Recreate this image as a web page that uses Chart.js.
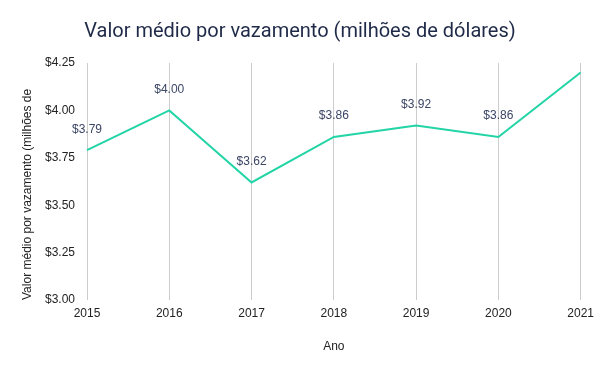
<!DOCTYPE html>
<html lang="pt">
  <head>
    <meta charset="UTF-8" />
    <title>Valor médio por vazamento</title>
    <script src="https://cdn.jsdelivr.net/npm/chart.js@4"></script>
    <style>
      html, body { margin: 0; padding: 0; background: #fff; }
      #wrap { width: 600px; height: 371px; }
    </style>
  </head>
  <body>
    <div id="wrap"><canvas id="myChart" width="600" height="371"></canvas></div>

    <script>
      const years = ["2015", "2016", "2017", "2018", "2019", "2020", "2021"];
      const avgCost = [3.79, 4.0, 3.62, 3.86, 3.92, 3.86, 4.2];
      const yTicks = [3.0, 3.25, 3.5, 3.75, 4.0, 4.25];

      const money = (v) => "$" + v.toFixed(2);

      // value labels above the points (the last one is cut off in the original)
      const pointLabels = {
        id: "pointLabels",
        afterDatasetsDraw(chart) {
          const ctx = chart.ctx;
          const meta = chart.getDatasetMeta(0);
          ctx.save();
          ctx.font = "12px 'Liberation Sans', Arial, sans-serif";
          ctx.fillStyle = "#3b4565";
          ctx.textAlign = "center";
          ctx.textBaseline = "middle";
          meta.data.forEach((pt, i) => {
            if (i === meta.data.length - 1) return;
            ctx.fillText(money(avgCost[i]), pt.x, pt.y - 21);
          });
          ctx.restore();
        },
      };

      const ctx = document.getElementById("myChart").getContext("2d");
      const myChart = new Chart(ctx, {
        type: "line",
        data: {
          labels: years,
          datasets: [
            {
              label: "Valor médio por vazamento",
              data: avgCost,
              borderColor: "#22d4a6",
              borderWidth: 2,
              pointRadius: 0,
              fill: false,
              tension: 0,
            },
          ],
        },
        options: {
          responsive: false,
          animation: false,
          layout: { padding: { left: 19, right: 19, top: 0, bottom: 0 } },
          plugins: {
            legend: { display: false },
            tooltip: { enabled: false },
            title: {
              display: true,
              text: "Valor médio por vazamento (milhões de dólares)",
              color: "#1f2a48",
              font: { family: "Roboto, 'Liberation Sans', sans-serif", size: 20, weight: "normal" },
              padding: { top: 20, bottom: 19 },
            },
          },
          scales: {
            x: {
              offset: false,
              grid: { color: "#cccccc", drawTicks: false },
              border: { display: false },
              ticks: {
                color: "#222",
                padding: 6,
                maxRotation: 0,
                font: { family: "'Liberation Sans', Arial, sans-serif", size: 12 },
              },
              title: {
                display: true,
                text: "Ano",
                color: "#222",
                padding: { top: 18, bottom: 17 },
                font: { family: "'Liberation Sans', Arial, sans-serif", size: 12 },
              },
              afterFit(scale) { scale.height = 71; },
            },
            y: {
              min: 3.0,
              max: 4.25,
              grid: { display: false },
              border: { display: false },
              afterBuildTicks(scale) {
                scale.ticks = yTicks.map((v) => ({ value: v }));
              },
              ticks: {
                color: "#222",
                padding: 4,
                callback: (v) => money(v),
                font: { family: "'Liberation Sans', Arial, sans-serif", size: 12 },
              },
              title: {
                display: true,
                text: "Valor médio por vazamento (milhões de",
                color: "#222",
                align: "start",
                padding: { top: 1, bottom: 0 },
                font: { family: "'Liberation Sans', Arial, sans-serif", size: 12 },
              },
              afterFit(scale) { scale.width = 68; },
            },
          },
        },
        plugins: [pointLabels],
      });
    </script>
  </body>
</html>
